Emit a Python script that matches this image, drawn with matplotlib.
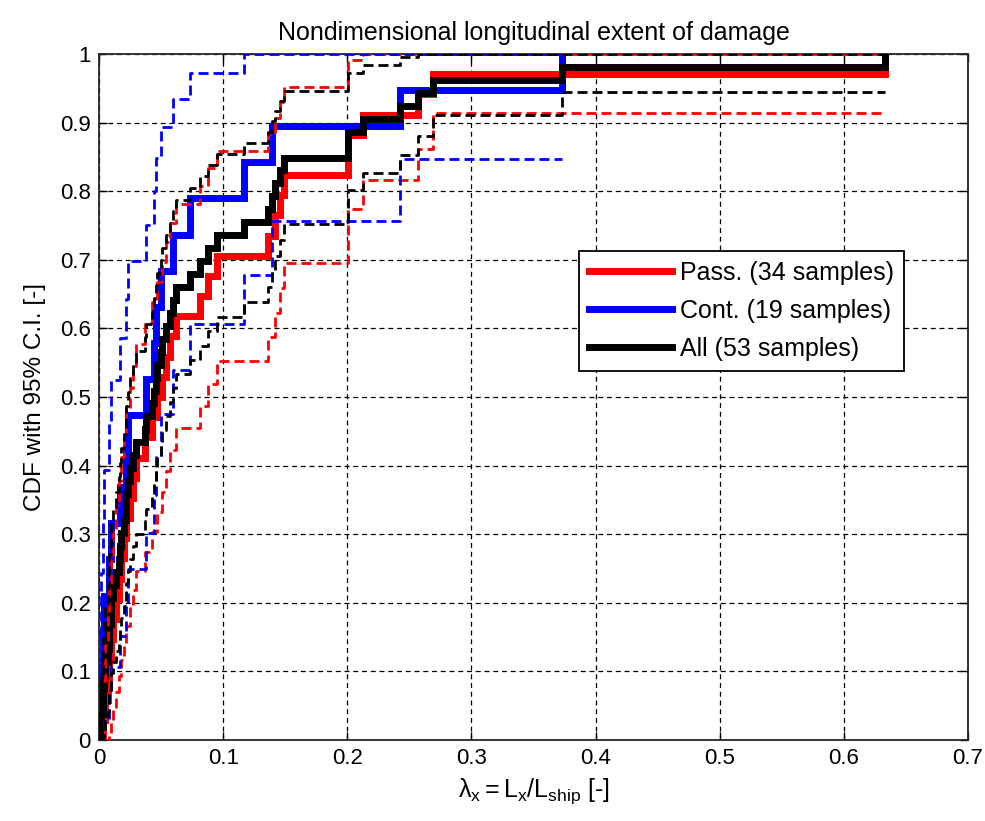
import numpy as np
import matplotlib
matplotlib.use("Agg")
import matplotlib.pyplot as plt
from matplotlib.lines import Line2D

plt.rcParams['font.family'] = ['Liberation Sans', 'DejaVu Sans']
plt.rcParams['mathtext.fontset'] = 'custom'
plt.rcParams['mathtext.rm'] = 'Liberation Sans'
plt.rcParams['mathtext.it'] = 'Liberation Sans'

# Nondimensional damage length samples, by ship type
passenger = [0.003, 0.005, 0.007, 0.008, 0.010, 0.011, 0.014, 0.016, 0.018,
             0.020, 0.022, 0.025, 0.027, 0.030, 0.037, 0.043, 0.047, 0.051,
             0.054, 0.057, 0.062, 0.081, 0.088, 0.095, 0.136, 0.142, 0.146,
             0.149, 0.2006, 0.2006, 0.213, 0.257, 0.269, 0.633]
container = [0.001, 0.002, 0.003, 0.004, 0.008, 0.010, 0.017, 0.022, 0.0234,
             0.038, 0.044, 0.046, 0.050, 0.0596, 0.0733, 0.117, 0.139,
             0.2425, 0.3727]
all_ships = passenger + container

series_labels = ['Pass. (34 samples)', 'Cont. (19 samples)', 'All (53 samples)']
series_colors = ['#ff0000', '#0000ff', '#000000']

x_ticks = [0, 0.1, 0.2, 0.3, 0.4, 0.5, 0.6, 0.7]
y_ticks = [0, 0.1, 0.2, 0.3, 0.4, 0.5, 0.6, 0.7, 0.8, 0.9, 1]


def ecdf_with_bounds(samples, z=1.96):
    """Empirical CDF with Greenwood 95% bounds (no censoring)."""
    s = np.sort(np.asarray(samples, dtype=float))
    n = s.size
    ux, counts = np.unique(s, return_counts=True)
    F = np.concatenate([[0.0], np.cumsum(counts) / n])
    x = np.concatenate([[ux[0]], ux])
    se = np.sqrt(F * (1 - F) / n)
    lo = np.clip(F - z * se, 0, 1)
    up = np.clip(F + z * se, 0, 1)
    lo[0] = up[0] = np.nan
    lo[-1] = up[-1] = np.nan
    return x, F, lo, up


fig = plt.figure(figsize=(9.85, 8.21), dpi=100)
ax = fig.add_axes([99 / 985, 81 / 821, 869 / 985, 686 / 821])

groups = [passenger, container, all_ships]
curves = [ecdf_with_bounds(g) for g in groups]

dash = (0, (3.6, 1.8))
for (x, F, lo, up), c in zip(curves, series_colors):
    ax.step(x, F, where='post', color=c, lw=5.0, solid_joinstyle='miter', zorder=3)
for (x, F, lo, up), c in zip(curves, series_colors):
    ax.step(x, lo, where='post', color=c, lw=2.0, linestyle=dash, zorder=4)
    ax.step(x, up, where='post', color=c, lw=2.0, linestyle=dash, zorder=4)

ax.set_xlim(0, 0.7)
ax.set_ylim(0, 1)
ax.set_xticks(x_ticks)
ax.set_yticks(y_ticks)
ax.set_xticklabels(['%g' % v for v in x_ticks])
ax.set_yticklabels(['%g' % v for v in y_ticks])
ax.tick_params(direction='in', length=6, width=1.0, top=True, right=True,
               labelsize=16, pad=6, colors='black')
ax.grid(True, color='black', linestyle=(0, (4.0, 3.0)), linewidth=0.9)
ax.set_axisbelow(True)
for sp in ax.spines.values():
    sp.set_linewidth(1.3)
    sp.set_color('#262626')

ax.set_title('Nondimensional longitudinal extent of damage', fontsize=18, pad=10)
ax.set_xlabel(r'$\mathregular{\lambda_x=L_x/L_{ship}}$ [-]', fontsize=18, labelpad=5)
ax.set_ylabel('CDF with 95% C.I. [-]', fontsize=17.5, labelpad=10)

handles = [Line2D([], [], color=c, lw=5.0) for c in series_colors]
leg = ax.legend(handles, series_labels, loc='upper left',
                bbox_to_anchor=(0.5524, 0.7128), fontsize=18,
                frameon=True, fancybox=False, framealpha=1,
                edgecolor='black', handlelength=3.3, handletextpad=0.35,
                labelspacing=0.55, borderpad=0.4, borderaxespad=0)
leg.get_frame().set_linewidth(1.3)

fig.savefig('out.png', dpi=100, facecolor='white')
